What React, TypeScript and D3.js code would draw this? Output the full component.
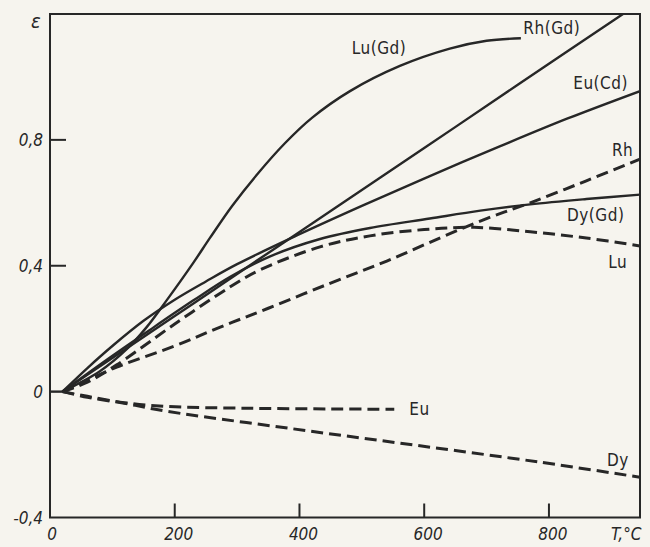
import * as d3 from "d3";

// temperature (°C) / relative change ε
const luGd: [number, number][] = [
  [20, 0], [80, 0.065], [123, 0.135], [155, 0.205], [187, 0.29], [230, 0.41], [257, 0.49],
  [292, 0.59], [332, 0.69], [377, 0.79], [420, 0.87], [481, 0.955], [561, 1.035],
  [641, 1.09], [700, 1.115], [755, 1.123],
];
const rhGd: [number, number][] = [
  [20, 0], [100, 0.107], [200, 0.24], [300, 0.374], [450, 0.574], [600, 0.774],
  [750, 0.975], [930, 1.215],
];
const euCd: [number, number][] = [
  [20, 0], [60, 0.075], [100, 0.145], [150, 0.225], [200, 0.292], [250, 0.35], [300, 0.405],
  [400, 0.5], [500, 0.59], [609, 0.685], [722, 0.78], [830, 0.868], [946, 0.955],
];
const dyGd: [number, number][] = [
  [20, 0], [90, 0.1], [160, 0.196], [230, 0.29], [289, 0.365], [353, 0.43], [433, 0.485],
  [513, 0.52], [609, 0.55], [690, 0.575], [770, 0.595], [860, 0.612], [946, 0.626],
];
const luDash: [number, number][] = [
  [20, 0], [60, 0.03], [107, 0.085], [200, 0.215], [289, 0.333], [337, 0.387],
  [433, 0.46], [513, 0.495], [600, 0.515], [680, 0.522], [770, 0.508], [860, 0.488],
  [946, 0.463],
];
const rhDash: [number, number][] = [
  [20, 0], [107, 0.078], [200, 0.145], [273, 0.205], [350, 0.265], [450, 0.345],
  [540, 0.415], [626, 0.489], [700, 0.55], [770, 0.6], [860, 0.67], [946, 0.739],
];
const euDash: [number, number][] = [
  [20, 0], [60, -0.015], [119, -0.035], [186, -0.047], [319, -0.053], [450, -0.055],
  [552, -0.056],
];
const dyDash: [number, number][] = [
  [20, 0], [60, -0.018], [119, -0.037], [186, -0.062], [385, -0.117], [585, -0.17],
  [785, -0.224], [946, -0.272],
];

const series = [
  { name: "Lu(Gd)", data: luGd, dashed: false },
  { name: "Rh(Gd)", data: rhGd, dashed: false },
  { name: "Eu(Cd)", data: euCd, dashed: false },
  { name: "Dy(Gd)", data: dyGd, dashed: false },
  { name: "Lu", data: luDash, dashed: true },
  { name: "Rh", data: rhDash, dashed: true },
  { name: "Eu", data: euDash, dashed: true },
  { name: "Dy", data: dyDash, dashed: true },
];

// label anchors in data units (T, ε)
const labels: [string, number, number][] = [
  ["Lu(Gd)", 484, 1.072],
  ["Rh(Gd)", 759, 1.135],
  ["Eu(Cd)", 839, 0.962],
  ["Rh", 901, 0.75],
  ["Dy(Gd)", 829, 0.542],
  ["Lu", 895, 0.393],
  ["Eu", 576, -0.075],
  ["Dy", 893, -0.235],
];

const xTicks = [200, 400, 600, 800];
const xTickLabels = ["0", "200", "400", "600", "800"];
const yTicks = [0.4, 0.8];
const yTickValues = [-0.4, 0, 0.4, 0.8];
const yTickLabels = ["-0,4", "0", "0,4", "0,8"];

const W = 650;
const H = 547;
const ink = "#272727";
const font = "'DejaVu Sans', sans-serif";

export default function App() {
  const x = d3.scaleLinear().domain([0, 946]).range([50, 640]);
  const y = d3.scaleLinear().domain([-0.4, 1.2]).range([517.5, 14]);

  const line = d3
    .line<[number, number]>()
    .x((d) => x(d[0]))
    .y((d) => y(d[1]))
    .curve(d3.curveCatmullRom.alpha(0.5));

  const [x0, x1] = x.range();
  const [y0, y1] = y.range();

  return (
    <svg
      width={W}
      height={H}
      style={{ position: "absolute", left: 0, top: 0, background: "#f6f4ee" }}
    >
      <defs>
        <clipPath id="plot">
          <rect x={x0} y={y1} width={x1 - x0} height={y0 - y1} />
        </clipPath>
      </defs>

      <g clipPath="url(#plot)" fill="none" stroke={ink} strokeLinecap="butt">
        <line x1={x(0)} x2={x(20)} y1={y(0)} y2={y(0)} strokeWidth={2.4} />
        {series.map((s) => (
          <path
            key={s.name}
            d={line(s.data) ?? ""}
            strokeWidth={s.dashed ? 3 : 2.4}
            strokeDasharray={s.dashed ? "12 6" : undefined}
          />
        ))}
      </g>

      {/* frame */}
      <rect
        x={x0}
        y={y1}
        width={x1 - x0}
        height={y0 - y1}
        fill="none"
        stroke={ink}
        strokeWidth={2}
      />

      {yTicks.map((v) => (
        <line key={v} x1={x0} x2={x0 + 16} y1={y(v)} y2={y(v)} stroke={ink} strokeWidth={2} />
      ))}
      {xTicks.map((v) => (
        <line key={v} x1={x(v)} x2={x(v)} y1={y0} y2={y0 - 14} stroke={ink} strokeWidth={2} />
      ))}

      <g fill={ink} fontFamily={font} fontStretch="condensed" fontSize={17}>
        <g fontStyle="italic">
          {yTickValues.map((v, i) => (
            <text key={v} x={43} y={y(v)} dy="0.36em" textAnchor="end">
              {yTickLabels[i]}
            </text>
          ))}
          {[0, ...xTicks].map((v, i) => (
            <text key={v} x={x(v) + (v === 0 ? 2 : 4)} y={540} textAnchor="middle">
              {xTickLabels[i]}
            </text>
          ))}
          <text x={611} y={540}>T,°C</text>
          <text x={31} y={28} fontSize={20}>ε</text>
        </g>
        {labels.map(([t, tx, ty]) => (
          <text key={t} x={x(tx)} y={y(ty)} fontSize={17} letterSpacing={0.5}>
            {t}
          </text>
        ))}
      </g>
    </svg>
  );
}
